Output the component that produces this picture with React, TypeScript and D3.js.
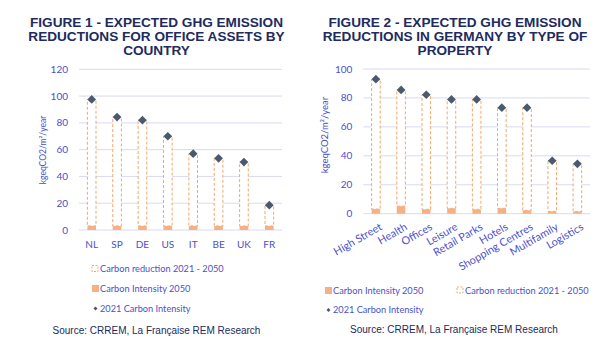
import React from "react";
import * as d3 from "d3";

// ---- Figure 1 data ----
const countries = ["NL", "SP", "DE", "US", "IT", "BE", "UK", "FR"];
const intensity2021Country = [97.5, 84.3, 82, 70, 57, 53.5, 50.7, 18.5];
const intensity2050Country = [3, 3, 3, 3, 3, 3, 3, 3];
const yTicks1 = [0, 20, 40, 60, 80, 100, 120];

// ---- Figure 2 data ----
const propertyTypes = [
  "High Street",
  "Health",
  "Offices",
  "Leisure",
  "Retail Parks",
  "Hotels",
  "Shopping Centres",
  "Multifamily",
  "Logistics",
];
const intensity2021Type = [93, 85.5, 82.2, 79, 79, 73.3, 73.3, 36.6, 34.5];
const intensity2050Type = [3.2, 5.2, 3, 3.7, 3, 3.7, 2.3, 1.6, 1.5];
const yTicks2 = [0, 20, 40, 60, 80, 100];

const TITLE_COLOR = "#222a5e";
const TEXT_BLUE = "#4b50cc";
const GRID = "#d9daf2";
const ORANGE = "#f4b183";
const DASH = "#f5a66a";
const DIAMOND = "#4a5a6e";
const LABEL_FONT = "Lato, 'Open Sans', sans-serif";
const TITLE_FONT = "'Liberation Sans', Arial, sans-serif";

type PanelProps = {
  cats: string[];
  v2021: number[];
  v2050: number[];
  yMax: number;
  ticks: number[];
  x0: number;
  x1: number;
  yTop: number;
  yBottom: number;
  rotate: boolean;
  yTitleX: number;
  yTitleY: number;
  yTitleSize: number;
};

function Panel(p: PanelProps) {
  const x = d3.scaleBand<string>().domain(p.cats).range([p.x0, p.x1]).paddingInner(0.66).paddingOuter(0.33);
  const y = d3.scaleLinear().domain([0, p.yMax]).range([p.yBottom, p.yTop]);
  const bw = x.bandwidth();
  const diamond = d3.symbol().type(d3.symbolSquare).size(38)();
  return (
    <g>
      {p.ticks.map((t) => (
        <g key={t}>
          <line x1={p.x0} x2={p.x1} y1={y(t)} y2={y(t)} stroke={GRID} strokeWidth={1} />
          <text x={p.x0 - 11} y={y(t)} dy="0.35em" textAnchor="end" fontSize={10} fill={TEXT_BLUE} fontFamily={LABEL_FONT}>
            {t}
          </text>
        </g>
      ))}
      <text
        transform={`translate(${p.yTitleX},${p.yTitleY}) rotate(-90)`}
        textAnchor="middle"
        dy="0.35em"
        fontSize={p.yTitleSize}
        fill={TEXT_BLUE}
        fontFamily={LABEL_FONT}
      >
        kgeqCO2/m²/year
      </text>
      {p.cats.map((c, i) => {
        const bx = x(c)!;
        const cx = bx + bw / 2;
        return (
          <g key={c}>
            <rect
              x={bx}
              y={y(p.v2021[i])}
              width={bw}
              height={y(p.v2050[i]) - y(p.v2021[i])}
              fill="white"
              stroke={DASH}
              strokeWidth={1}
              strokeDasharray="3,2"
            />
            <rect x={bx} y={y(p.v2050[i])} width={bw} height={y(0) - y(p.v2050[i])} fill={ORANGE} />
            <path d={diamond} transform={`translate(${cx},${y(p.v2021[i])}) rotate(45)`} fill={DIAMOND} />
            {p.rotate ? (
              <text
                transform={`translate(${cx + 5},${p.yBottom + 12}) rotate(-30)`}
                textAnchor="end"
                dy="0.35em"
                fontSize={10.8}
                fill={TEXT_BLUE}
                fontFamily={LABEL_FONT}
              >
                {c}
              </text>
            ) : (
              <text x={cx} y={p.yBottom + 14} dy="0.35em" textAnchor="middle" fontSize={10} fill={TEXT_BLUE} fontFamily={LABEL_FONT}>
                {c}
              </text>
            )}
          </g>
        );
      })}
    </g>
  );
}

function LegendItem({ x, y, kind, label }: { x: number; y: number; kind: "dash" | "solid" | "diamond"; label: string }) {
  const small = d3.symbol().type(d3.symbolSquare).size(8)();
  return (
    <g>
      {kind === "dash" && (
        <rect x={x} y={y - 3.5} width={6} height={6} fill="white" stroke={DASH} strokeWidth={1} strokeDasharray="2,1.5" />
      )}
      {kind === "solid" && <rect x={x} y={y - 3.5} width={7} height={7} fill={ORANGE} />}
      {kind === "diamond" && <path d={small} transform={`translate(${x + 3.5},${y}) rotate(45)`} fill={DIAMOND} />}
      <text x={x + 8} y={y} dy="0.35em" fontSize={9.2} fill={TEXT_BLUE} fontFamily={LABEL_FONT}>
        {label}
      </text>
    </g>
  );
}

function Title({ cx, lines }: { cx: number; lines: string[] }) {
  return (
    <text textAnchor="middle" fontSize={13.6} fontWeight="bold" fill={TITLE_COLOR} fontFamily={TITLE_FONT}>
      {lines.map((l, i) => (
        <tspan key={i} x={cx} y={26.5 + i * 14.2}>
          {l}
        </tspan>
      ))}
    </text>
  );
}

export default function App() {
  return (
    <svg width={600} height={357} style={{ position: "absolute", left: 0, top: 0, background: "white" }}>
      <Title cx={156.5} lines={["FIGURE 1 - EXPECTED GHG EMISSION", "REDUCTIONS FOR OFFICE ASSETS BY", "COUNTRY"]} />
      <Title cx={455} lines={["FIGURE 2 - EXPECTED GHG EMISSION", "REDUCTIONS IN GERMANY BY TYPE OF", "PROPERTY"]} />

      <Panel
        cats={countries}
        v2021={intensity2021Country}
        v2050={intensity2050Country}
        yMax={120}
        ticks={yTicks1}
        x0={79}
        x1={282}
        yTop={69.3}
        yBottom={230}
        rotate={false}
        yTitleX={43}
        yTitleY={150}
        yTitleSize={8.5}
      />
      <Panel
        cats={propertyTypes}
        v2021={intensity2021Type}
        v2050={intensity2050Type}
        yMax={100}
        ticks={yTicks2}
        x0={363.3}
        x1={590}
        yTop={69}
        yBottom={213.7}
        rotate={true}
        yTitleX={325}
        yTitleY={135}
        yTitleSize={9.5}
      />

      <LegendItem x={92} y={269} kind="dash" label="Carbon reduction 2021 - 2050" />
      <LegendItem x={92} y={288.5} kind="solid" label="Carbon Intensity 2050" />
      <LegendItem x={92} y={308.5} kind="diamond" label="2021 Carbon Intensity" />

      <LegendItem x={325} y={290.5} kind="solid" label="Carbon Intensity 2050" />
      <LegendItem x={457} y={290.5} kind="dash" label="Carbon reduction 2021 - 2050" />
      <LegendItem x={325} y={310} kind="diamond" label="2021 Carbon Intensity" />

      <text x={156.5} y={330} dy="0.35em" textAnchor="middle" fontSize={10} fill={TITLE_COLOR} fontFamily={TITLE_FONT}>
        Source: CRREM, La Française REM Research
      </text>
      <text x={454} y={329.5} dy="0.35em" textAnchor="middle" fontSize={10} fill={TITLE_COLOR} fontFamily={TITLE_FONT}>
        Source: CRREM, La Française REM Research
      </text>
    </svg>
  );
}
